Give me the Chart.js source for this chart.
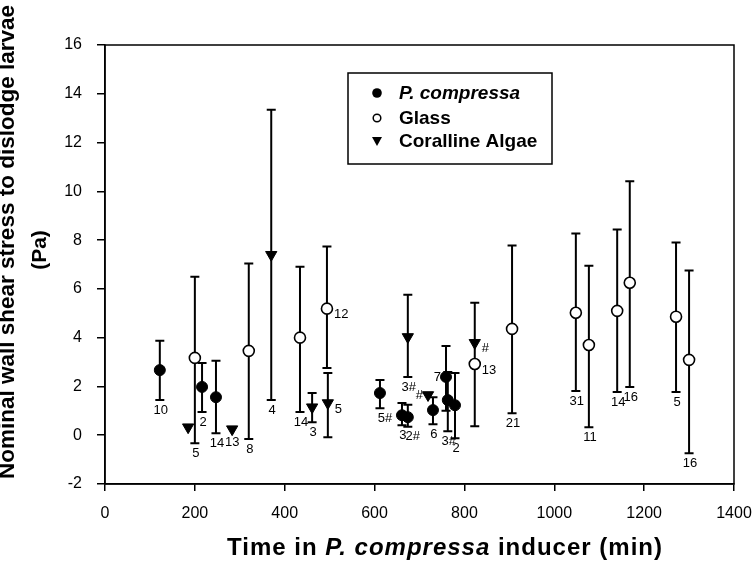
<!DOCTYPE html>
<html>
<head>
<meta charset="utf-8">
<script src="https://cdn.jsdelivr.net/npm/chart.js@4.4.1/dist/chart.umd.min.js"></script>
<style>
  body { margin: 0; background: #fff; }
</style>
</head>
<body>
<canvas id="shearChart" width="756" height="561"></canvas>
<script>
// P. compressa (filled circles)
var pcTime = [122, 216, 247, 612, 661, 674, 730, 759, 763, 779];
var pcMean = [2.67, 1.98, 1.56, 1.73, 0.82, 0.74, 1.03, 2.39, 1.44, 1.23];
var pcLow  = [1.44, 0.95, 0.08, 1.11, 0.41, 0.35, 0.45, 1.0, 0.16, -0.12];
var pcHigh = [3.87, 2.96, 3.05, 2.26, 1.32, 1.25, 1.56, 3.66, 2.59, 2.55];
var pcN    = ['10', '2', '14', '5#', '3', '2#', '6', '7', '3#', '2'];

// Glass (open circles)
var glTime = [200, 320, 434, 494, 823, 906, 1048, 1077, 1140, 1168, 1271, 1300];
var glMean = [3.17, 3.46, 4.0, 5.19, 2.92, 4.36, 5.02, 3.7, 5.1, 6.25, 4.86, 3.09];
var glLow  = [-0.33, -0.16, 0.95, 2.76, 0.37, 0.9, 1.81, 0.33, 1.77, 1.98, 1.77, -0.74];
var glHigh = [6.5, 7.04, 6.91, 7.74, 5.43, 7.78, 8.27, 6.95, 8.44, 10.41, 7.9, 6.75];
var glN    = ['5', '8', '14', '12', '13', '21', '31', '11', '14', '16', '5', '16'];

// Coralline algae (down triangles)
var caTime = [185, 283, 370, 461, 496, 674, 719, 823];
var caMean = [0.33, 0.25, 7.4, 1.15, 1.32, 4.03, 1.65, 3.79];
var caLow  = [null, null, 1.44, 0.53, -0.08, 2.39, null, null];
var caHigh = [null, null, 13.35, 1.73, 2.55, 5.76, null, null];
var caN    = ['', '13', '4', '3', '5', '3#', '#', '#'];

var xTicks = [0, 200, 400, 600, 800, 1000, 1200, 1400];
var yTicks = [-2, 0, 2, 4, 6, 8, 10, 12, 14, 16];

// where each n label sits: b = below bar, b+ = below and nudged right,
// r = right of marker, l = left of marker
var pcPlace = ['b', 'b', 'b', 'b+', 'b', 'b+', 'b', 'l', 'b', 'b'];
var glPlace = ['b', 'b', 'b', 'r', 'r', 'b', 'b', 'b', 'b', 'b', 'b', 'b'];
var caPlace = ['', 'b', 'b', 'b', 'r', 'b', 'l', 'r'];

var FONT = '"Liberation Sans", Arial, Helvetica, sans-serif';

function points(xs, ys) {
    return xs.map(function (x, i) { return { x: x, y: ys[i] }; });
}

var series = [
    { xs: pcTime, ys: pcMean, lo: pcLow, hi: pcHigh, n: pcN, place: pcPlace },
    { xs: glTime, ys: glMean, lo: glLow, hi: glHigh, n: glN, place: glPlace },
    { xs: caTime, ys: caMean, lo: caLow, hi: caHigh, n: caN, place: caPlace }
];

var extras = {
    id: 'extras',
    beforeDatasetsDraw: function (chart) {
        var ctx = chart.ctx, sx = chart.scales.x, sy = chart.scales.y;
        ctx.save();
        ctx.strokeStyle = '#000';
        ctx.lineWidth = 2;
        series.forEach(function (s) {
            s.xs.forEach(function (x, i) {
                if (s.lo[i] == null) return;
                var px = sx.getPixelForValue(x);
                var top = sy.getPixelForValue(s.hi[i]);
                var bot = sy.getPixelForValue(s.lo[i]);
                ctx.beginPath();
                ctx.moveTo(px, top); ctx.lineTo(px, bot);
                ctx.moveTo(px - 4.5, top); ctx.lineTo(px + 4.5, top);
                ctx.moveTo(px - 4.5, bot); ctx.lineTo(px + 4.5, bot);
                ctx.stroke();
            });
        });
        ctx.restore();
    },
    afterDatasetsDraw: function (chart) {
        var ctx = chart.ctx, sx = chart.scales.x, sy = chart.scales.y;
        ctx.save();
        ctx.fillStyle = '#000';
        ctx.font = '13px ' + FONT;
        ctx.textBaseline = 'middle';
        series.forEach(function (s) {
            s.xs.forEach(function (x, i) {
                var p = s.place[i];
                if (!p) return;
                var px = sx.getPixelForValue(x);
                var py = sy.getPixelForValue(s.ys[i]);
                if (p === 'b' || p === 'b+') {
                    ctx.textAlign = 'center';
                    var nudge = p === 'b+' ? 5 : 1;
                    if (s.lo[i] != null) ctx.fillText(s.n[i], px + nudge, sy.getPixelForValue(s.lo[i]) + 10);
                    else ctx.fillText(s.n[i], px, py + 13);
                } else if (p === 'r') {
                    ctx.textAlign = 'left';
                    ctx.fillText(s.n[i], px + 7, py + 6);
                } else {
                    ctx.textAlign = 'right';
                    ctx.fillText(s.n[i], px - 5, py);
                }
            });
        });
        ctx.restore();
    },
    afterDraw: function (chart) {
        var ctx = chart.ctx, a = chart.chartArea;
        ctx.save();
        ctx.strokeStyle = '#000';
        ctx.fillStyle = '#000';

        // frame
        ctx.lineWidth = 1.5;
        ctx.strokeRect(a.left, a.top, a.right - a.left, a.bottom - a.top);

        // legend
        ctx.lineWidth = 1.5;
        ctx.strokeRect(348, 73, 204, 91);
        ctx.beginPath(); ctx.arc(377, 93, 4.8, 0, Math.PI * 2); ctx.fill();
        ctx.beginPath(); ctx.arc(377, 118, 3.8, 0, Math.PI * 2);
        ctx.fillStyle = '#fff'; ctx.fill(); ctx.fillStyle = '#000'; ctx.stroke();
        ctx.beginPath();
        ctx.moveTo(372, 137); ctx.lineTo(382, 137); ctx.lineTo(377, 146); ctx.closePath(); ctx.fill();
        ctx.textBaseline = 'middle';
        ctx.textAlign = 'left';
        ctx.font = 'italic bold 19px ' + FONT;
        ctx.fillText('P. compressa', 399, 94);
        ctx.font = 'bold 19px ' + FONT;
        ctx.fillText('Glass', 399, 119);
        ctx.fillText('Coralline Algae', 399, 142);

        // x title
        ctx.textBaseline = 'alphabetic';
        var parts = [['Time in ', 'bold'], ['P. compressa', 'italic bold'], [' inducer (min)', 'bold']];
        ctx.letterSpacing = '1px';
        var total = 0;
        parts.forEach(function (p) { ctx.font = p[1] + ' 24px ' + FONT; total += ctx.measureText(p[0]).width; });
        var tx = 445 - total / 2;
        parts.forEach(function (p) {
            ctx.font = p[1] + ' 24px ' + FONT;
            ctx.fillText(p[0], tx, 555);
            tx += ctx.measureText(p[0]).width;
        });
        ctx.letterSpacing = '0px';

        // y title
        ctx.save();
        ctx.translate(14, 242);
        ctx.rotate(-Math.PI / 2);
        ctx.textAlign = 'center';
        ctx.font = 'bold 22.5px ' + FONT;
        ctx.fillText('Nominal wall shear stress to dislodge larvae', 0, 0);
        ctx.restore();
        ctx.save();
        ctx.translate(46, 250);
        ctx.rotate(-Math.PI / 2);
        ctx.textAlign = 'center';
        ctx.font = 'bold 21px ' + FONT;
        ctx.fillText('(Pa)', 0, 0);
        ctx.restore();

        ctx.restore();
    }
};

var ctx = document.getElementById('shearChart').getContext('2d');
var shearChart = new Chart(ctx, {
    type: 'scatter',
    data: {
        datasets: [{
            label: 'P. compressa',
            data: points(pcTime, pcMean),
            pointStyle: 'circle',
            pointRadius: 5.5,
            backgroundColor: '#000',
            borderColor: '#000',
            borderWidth: 1
        }, {
            label: 'Glass',
            data: points(glTime, glMean),
            pointStyle: 'circle',
            pointRadius: 5.5,
            backgroundColor: '#fff',
            borderColor: '#000',
            borderWidth: 1.6
        }, {
            label: 'Coralline Algae',
            data: points(caTime, caMean),
            pointStyle: 'triangle',
            pointRotation: 180,
            pointRadius: 6.5,
            backgroundColor: '#000',
            borderColor: '#000',
            borderWidth: 1
        }]
    },
    options: {
        responsive: false,
        animation: false,
        layout: { padding: { left: 0, top: 45, right: 22, bottom: 0 } },
        plugins: {
            legend: { display: false },
            tooltip: { enabled: false }
        },
        scales: {
            x: {
                type: 'linear',
                min: 0,
                max: 1400,
                afterFit: function (s) { s.height = 77; s.paddingLeft = 0; s.paddingRight = 0; },
                afterBuildTicks: function (s) { s.ticks = xTicks.map(function (v) { return { value: v }; }); },
                grid: { drawOnChartArea: false, drawTicks: true, tickLength: 7, color: '#000', lineWidth: 1.5 },
                border: { display: true, color: '#000', width: 1.5 },
                ticks: {
                    color: '#000',
                    font: { family: FONT, size: 16 },
                    padding: 13,
                    maxRotation: 0,
                    callback: function (v) { return String(v); }
                }
            },
            y: {
                type: 'linear',
                min: -2,
                max: 16,
                afterFit: function (s) { s.width = 105; s.paddingTop = 0; s.paddingBottom = 0; },
                afterBuildTicks: function (s) { s.ticks = yTicks.map(function (v) { return { value: v }; }); },
                grid: { drawOnChartArea: false, drawTicks: true, tickLength: 8, color: '#000', lineWidth: 1.5 },
                border: { display: true, color: '#000', width: 1.5 },
                ticks: {
                    color: '#000',
                    font: { family: FONT, size: 16 },
                    padding: 15,
                    callback: function (v) { return String(v); }
                }
            }
        }
    },
    plugins: [extras]
});
</script>
</body>
</html>
